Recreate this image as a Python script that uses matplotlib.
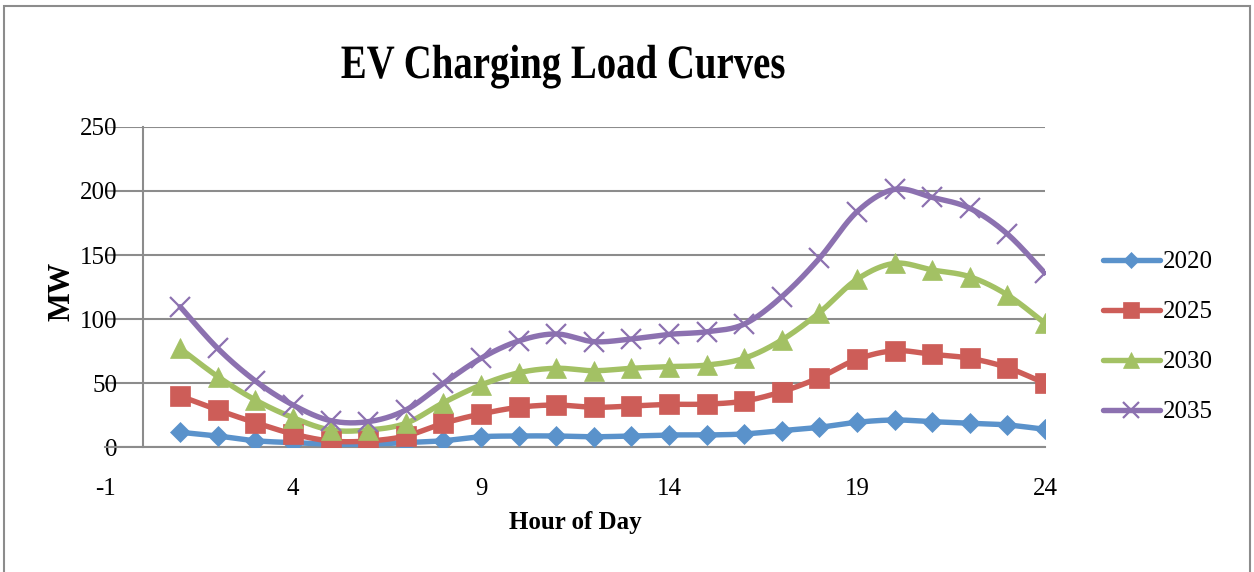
import numpy as np
import matplotlib
matplotlib.use("Agg")
import matplotlib.pyplot as plt
from matplotlib.patches import Rectangle
from matplotlib.patheffects import AbstractPathEffect
from matplotlib.transforms import Affine2D

# Hourly EV charging load (MW) per scenario year
hours = list(range(1, 25))
load_2020 = [11.5, 8.6, 4.9, 3.4, 2.3, 2.3, 3.4, 4.9, 8.0, 8.6, 8.6, 8.0,
             8.6, 9.4, 9.4, 10.2, 12.8, 15.4, 19.3, 21.1, 19.8, 18.5, 17.2, 13.8]
load_2025 = [39.8, 28.9, 19.0, 10.2, 4.7, 4.7, 8.6, 18.5, 25.8, 31.0, 32.8, 31.0,
             32.0, 33.3, 33.5, 35.9, 43.2, 54.2, 68.5, 75.2, 72.4, 69.3, 62.0, 49.7]
load_2030 = [77.0, 55.0, 36.7, 22.9, 13.3, 13.3, 18.5, 34.6, 48.4, 58.0, 61.5, 59.6,
             61.5, 62.8, 64.0, 69.3, 83.6, 105.0, 131.0, 143.5, 138.3, 133.0, 118.8, 96.6]
load_2035 = [109.6, 77.0, 51.6, 32.8, 20.6, 19.8, 28.9, 49.7, 69.3, 82.8, 88.3, 82.3,
             84.4, 88.0, 90.0, 96.0, 117.4, 147.4, 183.8, 201.3, 195.0, 186.5, 166.4, 135.7]
labels = ["2020", "2025", "2030", "2035"]

x_ticks = [-1, 4, 9, 14, 19, 24]
y_ticks = [0, 50, 100, 150, 200, 250]

colors = ["#5A92CB", "#CD5D58", "#A3C164", "#8C71B0"]
markers = ["D", "s", "^", "x"]
msizes = [10.2, 15, 15, 14]


def smooth(x, y, n=30):
    # Catmull-Rom style bezier smoothing, like spreadsheet "smoothed line"
    x = np.asarray(x, float)
    y = np.asarray(y, float)
    px = np.concatenate([[x[0]], x, [x[-1]]])
    py = np.concatenate([[y[0]], y, [y[-1]]])
    xs, ys = [], []
    t = np.linspace(0, 1, n)
    for i in range(1, len(px) - 2):
        p0 = np.array([px[i], py[i]])
        p3 = np.array([px[i + 1], py[i + 1]])
        p1 = p0 + (np.array([px[i + 1], py[i + 1]]) - np.array([px[i - 1], py[i - 1]])) / 6
        p2 = p3 - (np.array([px[i + 2], py[i + 2]]) - np.array([px[i], py[i]])) / 6
        b = ((1 - t) ** 3)[:, None] * p0 + (3 * (1 - t) ** 2 * t)[:, None] * p1 \
            + (3 * (1 - t) * t ** 2)[:, None] * p2 + (t ** 3)[:, None] * p3
        xs.append(b[:, 0])
        ys.append(b[:, 1])
    return np.concatenate(xs), np.concatenate(ys)


class Narrow(AbstractPathEffect):
    # squeeze glyphs horizontally around a fixed figure x position
    def __init__(self, fig, xfrac, sx):
        super().__init__()
        self.fig, self.xfrac, self.sx = fig, xfrac, sx

    def draw_path(self, renderer, gc, tpath, affine, rgbFace=None):
        cx = self.fig.transFigure.transform((self.xfrac, 0))[0]
        squeeze = Affine2D().translate(-cx, 0).scale(self.sx, 1).translate(cx, 0)
        renderer.draw_path(gc, tpath, affine + squeeze, rgbFace)


plt.rcParams["font.family"] = ["Liberation Serif", "DejaVu Serif"]
plt.rcParams["axes.unicode_minus"] = False

fig = plt.figure(figsize=(12.54, 5.72), dpi=100)
ax = fig.add_axes([105 / 1254, 125 / 572, 940 / 1254, 320 / 572])

series = [load_2020, load_2025, load_2030, load_2035]
handles = []
for vals, lab, c, m, ms in zip(series, labels, colors, markers, msizes):
    sx, sy = smooth(hours, vals)
    ax.plot(sx, sy, color=c, lw=3.9, solid_capstyle="round", zorder=3)
    ax.plot(hours, vals, ls="none", marker=m, ms=ms, color=c,
            mec=c, mew=1.6 if m == "x" else 0.5, zorder=4)
    h, = ax.plot([], [], color=c, lw=3.9, marker=m, ms=ms * 0.8, mec=c,
                 mew=1.6 if m == "x" else 0.5, solid_capstyle="round")
    handles.append(h)

ax.set_xlim(-1, 24)
ax.set_ylim(0, 250)
ax.set_xticks(x_ticks)
ax.set_yticks(y_ticks)
ax.grid(axis="y", color="#8c8c8c", lw=1.5)
ax.set_axisbelow(True)

for s in ["top", "right"]:
    ax.spines[s].set_visible(False)
ax.spines["left"].set_position(("data", 0))
ax.spines["left"].set_color("#8c8c8c")
ax.spines["left"].set_linewidth(1.5)
ax.spines["bottom"].set_color("#8c8c8c")
ax.spines["bottom"].set_linewidth(1.5)
ax.tick_params(axis="y", length=0, pad=18, labelsize=18)
ax.tick_params(axis="x", length=0, pad=22, labelsize=18)

title = fig.text(563 / 1254, 1 - 66 / 572, "EV Charging Load Curves", ha="center",
                 va="center", fontsize=34.5, fontweight="bold")
title.set_path_effects([Narrow(fig, 563 / 1254, 0.81)])
fig.text(62 / 1254, 1 - 291 / 572, "MW", rotation=90, ha="center",
         va="center", fontsize=22, fontweight="bold")
fig.text(575 / 1254, 1 - 522 / 572, "Hour of Day", ha="center",
         va="center", fontsize=18, fontweight="bold")

fig.legend(handles, labels, loc="center left", bbox_to_anchor=(1090 / 1254, 1 - 337 / 572),
           frameon=False, fontsize=18, handlelength=2.3, handletextpad=0.1,
           labelspacing=1.1, numpoints=1, borderpad=0)

# outer chart border
fig.patches.append(Rectangle((4 / 1254, -0.01), 1246 / 1254, 1 - 6 / 572 + 0.01,
                             transform=fig.transFigure, fill=False,
                             edgecolor="#8c8c8c", lw=1.5))

fig.savefig("out.png", dpi=100)
